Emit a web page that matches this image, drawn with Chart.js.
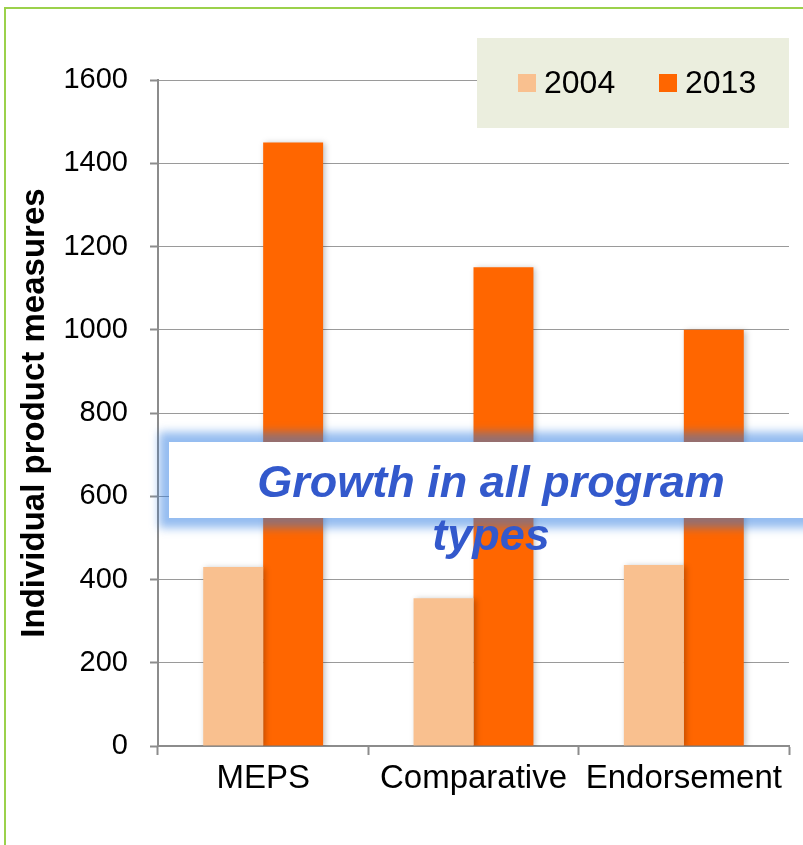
<!DOCTYPE html>
<html>
<head>
<meta charset="utf-8">
<script src="https://cdn.jsdelivr.net/npm/chart.js@4/dist/chart.umd.min.js"></script>
<style>
  html, body { margin: 0; padding: 0; background: #ffffff; }
  #wrap { width: 803px; height: 845px; position: relative; }
</style>
</head>
<body>
<div id="wrap"><canvas id="chart" width="803" height="845"></canvas></div>
<script>
// Product measures by program type
const categories = ['MEPS', 'Comparative', 'Endorsement'];
const seriesLabels = ['2004', '2013'];
const values2004 = [430, 355, 435];
const values2013 = [1450, 1150, 1000];
const yTicks = [0, 200, 400, 600, 800, 1000, 1200, 1400, 1600];
const axisTitle = 'Individual product measures';
const calloutLines = ['Growth in all program', 'types'];

const FONT = "'Liberation Sans', Arial, Helvetica, sans-serif";
const colors = ['#F9C08F', '#FF6600'];
const gray = '#8C8C8C';

// Green frame around the chart
const framePlugin = {
  id: 'frame',
  beforeDraw(chart) {
    const ctx = chart.ctx;
    ctx.save();
    ctx.fillStyle = '#ffffff';
    ctx.fillRect(0, 0, chart.width, chart.height);
    ctx.strokeStyle = '#9BD14B';
    ctx.lineWidth = 2;
    ctx.beginPath();
    ctx.moveTo(5, chart.height);
    ctx.lineTo(5, 8);
    ctx.lineTo(chart.width, 8);
    ctx.stroke();
    ctx.restore();
  }
};

// Soft drop shadow under the bars
const barShadowPlugin = {
  id: 'barShadow',
  beforeDatasetsDraw(chart) {
    const ctx = chart.ctx;
    ctx.save();
    ctx.shadowColor = 'rgba(0,0,0,0.25)';
    ctx.shadowBlur = 6;
    ctx.shadowOffsetX = 2;
    ctx.shadowOffsetY = 1;
  },
  afterDatasetsDraw(chart) {
    chart.ctx.restore();
  }
};

// Legend panel in the top-right corner
const legendPanelPlugin = {
  id: 'legendPanel',
  afterDraw(chart) {
    const ctx = chart.ctx;
    ctx.save();
    ctx.fillStyle = '#EBEEDE';
    ctx.fillRect(477, 38, 312, 90);
    const items = chart.data.datasets.map(d => ({ label: d.label, color: d.backgroundColor }));
    const xs = [518, 659];
    ctx.font = '32px ' + FONT;
    ctx.textBaseline = 'middle';
    ctx.textAlign = 'left';
    items.forEach((it, i) => {
      ctx.fillStyle = it.color;
      ctx.fillRect(xs[i], 74, 18, 18);
      ctx.fillStyle = '#000000';
      ctx.fillText(it.label, xs[i] + 26, 84);
    });
    ctx.restore();
  }
};

// Highlighted callout box across the middle of the plot
const calloutPlugin = {
  id: 'callout',
  afterDraw(chart) {
    const ctx = chart.ctx;
    const bx = 169, by = 442, bw = 700, bh = 76;
    ctx.save();
    ctx.filter = 'blur(5px)';
    ctx.fillStyle = 'rgba(42,122,225,0.5)';
    ctx.fillRect(bx - 10, by - 10, bw + 20, bh + 20);
    ctx.filter = 'none';
    ctx.fillStyle = '#ffffff';
    ctx.fillRect(bx, by, bw, bh);
    ctx.fillStyle = '#3359CC';
    ctx.font = 'italic bold 45px ' + FONT;
    ctx.textAlign = 'center';
    ctx.textBaseline = 'alphabetic';
    ctx.fillText(calloutLines[0], 491, 497);
    ctx.fillText(calloutLines[1], 491, 550);
    ctx.restore();
  }
};

new Chart(document.getElementById('chart'), {
  type: 'bar',
  data: {
    labels: categories,
    datasets: [
      { label: seriesLabels[0], data: values2004, backgroundColor: colors[0], borderWidth: 0 },
      { label: seriesLabels[1], data: values2013, backgroundColor: colors[1], borderWidth: 0 }
    ]
  },
  options: {
    responsive: false,
    animation: false,
    devicePixelRatio: 1,
    layout: { padding: { top: 80, right: 14, bottom: 0, left: 0 } },
    datasets: { bar: { categoryPercentage: 0.57, barPercentage: 1.0 } },
    plugins: {
      legend: { display: false },
      tooltip: { enabled: false }
    },
    scales: {
      x: {
        afterFit(scale) { scale.height = 99; },
        grid: {
          display: true,
          offset: true,
          drawOnChartArea: false,
          drawTicks: true,
          tickLength: 9,
          tickColor: gray,
          tickWidth: 2
        },
        border: { display: true, color: gray, width: 2 },
        ticks: {
          color: '#000000',
          font: { family: FONT, size: 33 },
          padding: 4,
          maxRotation: 0,
          autoSkip: false
        }
      },
      y: {
        min: 0,
        max: 1600,
        afterFit(scale) { scale.width = 158; },
        afterBuildTicks(scale) { scale.ticks = yTicks.map(v => ({ value: v })); },
        grid: {
          color: '#9A9A9A',
          lineWidth: 1,
          borderDash: [2, 2],
          drawTicks: true,
          tickLength: 8,
          tickColor: gray,
          tickWidth: 2,
          tickBorderDash: []
        },
        border: { display: true, color: gray, width: 2 },
        ticks: {
          color: '#000000',
          font: { family: FONT, size: 29 },
          padding: 22,
          callback: (v) => String(v)
        },
        title: {
          display: true,
          text: axisTitle,
          color: '#000000',
          font: { family: FONT, size: 33, weight: 'bold' },
          padding: { top: 15, bottom: 0 }
        }
      }
    }
  },
  plugins: [framePlugin, barShadowPlugin, legendPanelPlugin, calloutPlugin]
});
</script>
</body>
</html>
